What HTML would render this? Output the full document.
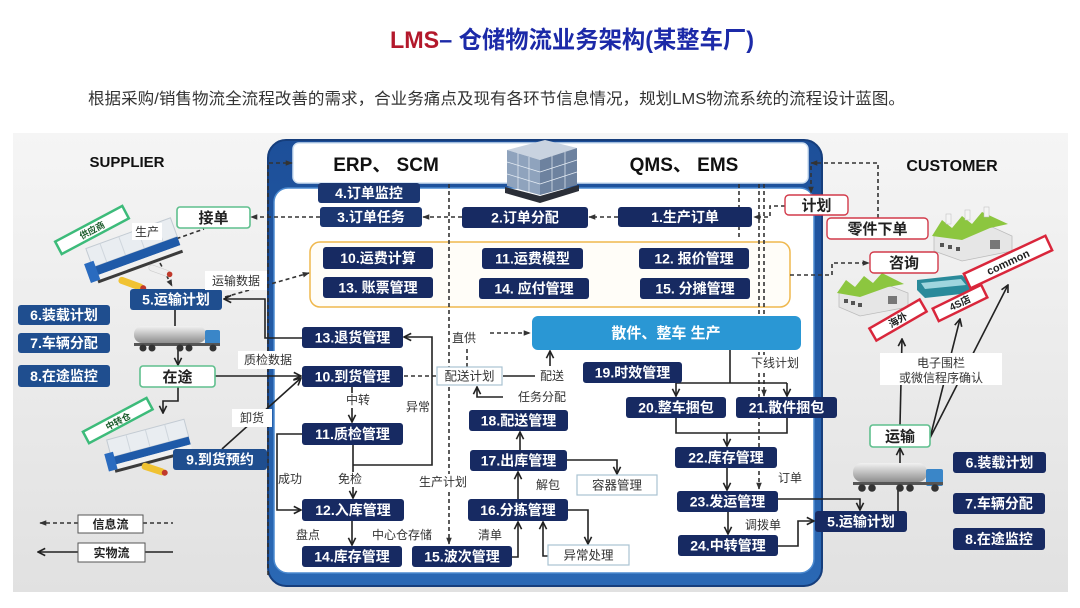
<!DOCTYPE html>
<html><head><meta charset="utf-8">
<style>
html,body{margin:0;padding:0;background:#fff;}
svg{display:block;}
text{font-family:"Liberation Sans","Noto Sans CJK SC",sans-serif;}
.bx{fill:#172a62;}
.b2{fill:#1b3671;}
.bl{fill:#1f4e8f;}
.t{fill:#fff;font-size:14px;font-weight:bold;text-anchor:middle;}
.l{fill:#333;font-size:12px;text-anchor:middle;}
.g{fill:#222;font-size:15px;font-weight:bold;text-anchor:middle;}
.s{stroke:#222;stroke-width:1.6;fill:none;}
.d{stroke:#333;stroke-width:1.6;fill:none;stroke-dasharray:4 3;}
.wb{fill:#fff;}
.lb{fill:#fff;stroke:#a9c3d3;stroke-width:1.2;}
.gb{fill:#fff;stroke:#5fbf8d;stroke-width:1.6;}
.rb{fill:#fff;stroke:#d23a4a;stroke-width:1.4;}
</style></head><body>
<svg width="1080" height="608" viewBox="0 0 1080 608" xmlns="http://www.w3.org/2000/svg">
<defs>
<linearGradient id="pg" x1="0" y1="0" x2="0" y2="1"><stop offset="0" stop-color="#f5f5f5"/><stop offset="1" stop-color="#e1e1e1"/></linearGradient>
<linearGradient id="tk" x1="0" y1="0" x2="0" y2="1"><stop offset="0" stop-color="#f2f2f2"/><stop offset="1" stop-color="#8e8e8e"/></linearGradient>
<linearGradient id="fr" x1="0" y1="0" x2="0" y2="1"><stop offset="0" stop-color="#1d4f99"/><stop offset="1" stop-color="#2a68b4"/></linearGradient>
<marker id="ar" viewBox="0 0 10 10" refX="9" refY="5" markerWidth="9" markerHeight="9" markerUnits="userSpaceOnUse" orient="auto"><path d="M1,1 L9,5 L1,9" fill="none" stroke="#222" stroke-width="1.8"/></marker>
<marker id="ad" viewBox="0 0 10 10" refX="9" refY="5" markerWidth="7" markerHeight="7" markerUnits="userSpaceOnUse" orient="auto"><path d="M0,1 L10,5 L0,9 z" fill="#333"/></marker>
</defs>

<rect x="0" y="0" width="1080" height="608" fill="#fff"/>
<rect x="13" y="133" width="1055" height="459" fill="url(#pg)"/>

<!-- Title -->
<text x="390" y="48" font-size="24" font-weight="bold" textLength="364" lengthAdjust="spacingAndGlyphs"><tspan fill="#b3182b">LMS</tspan><tspan fill="#1c2aa8">– 仓储物流业务架构(某整车厂)</tspan></text>
<text x="88" y="104" font-size="16" fill="#333" textLength="817" lengthAdjust="spacingAndGlyphs">根据采购/销售物流全流程改善的需求，合业务痛点及现有各环节信息情况，规划LMS物流系统的流程设计蓝图。</text>

<text x="127" y="167" font-size="15" font-weight="bold" fill="#111" text-anchor="middle">SUPPLIER</text>
<text x="952" y="171" font-size="16" font-weight="bold" fill="#111" text-anchor="middle">CUSTOMER</text>

<!-- central frame -->
<rect x="268" y="140" width="554" height="446" rx="18" fill="url(#fr)" stroke="#163e7c" stroke-width="2"/>
<rect x="293" y="143" width="515" height="40" rx="6" fill="#fff" stroke="#cfe0f2" stroke-width="1.5"/>
<rect x="274" y="188" width="540" height="385" rx="14" fill="#fff" stroke="#4b8ad0" stroke-width="1.5"/>
<text x="386" y="171" font-size="19" font-weight="bold" fill="#111" text-anchor="middle">ERP、 SCM</text>
<text x="684" y="171" font-size="19" font-weight="bold" fill="#111" text-anchor="middle">QMS、 EMS</text>

<!-- building -->
<polygon points="507,150 545,140 577,148 540,160" fill="#c9d3e0"/>
<polygon points="507,150 540,160 540,195 507,186" fill="#8fa3bd"/>
<polygon points="540,160 577,148 577,185 540,195" fill="#6d829f"/>
<g stroke="#e6edf5" stroke-width="0.7">
<line x1="518" y1="153" x2="518" y2="189"/><line x1="529" y1="157" x2="529" y2="192"/>
<line x1="552" y1="156" x2="552" y2="191"/><line x1="565" y1="152" x2="565" y2="188"/>
<line x1="507" y1="162" x2="540" y2="172"/><line x1="507" y1="174" x2="540" y2="184"/>
<line x1="540" y1="172" x2="577" y2="160"/><line x1="540" y1="184" x2="577" y2="172"/>
</g>
<polygon points="505,187 540,196 579,185 579,191 540,203 505,193" fill="#2b2f38"/>

<!-- orange group box -->
<rect x="310" y="242" width="480" height="65" rx="10" fill="#fffdf8" stroke="#efb84e" stroke-width="1.5"/>

<!-- dashed lines -->
<polyline class="d" points="268,575 268,163 292,163" marker-end="url(#ad)"/>
<line class="d" x1="449" y1="184" x2="449" y2="544" marker-end="url(#ad)"/>
<line class="d" x1="739" y1="184" x2="739" y2="240"/>
<line class="d" x1="759" y1="184" x2="759" y2="489" marker-end="url(#ad)"/>
<line class="d" x1="764" y1="184" x2="764" y2="396" marker-end="url(#ad)"/>
<line class="d" x1="320" y1="217" x2="251" y2="217" marker-end="url(#ad)"/>
<line class="d" x1="462" y1="217" x2="423" y2="217" marker-end="url(#ad)"/>
<line class="d" x1="618" y1="217" x2="589" y2="217" marker-end="url(#ad)"/>
<polyline class="d" points="785,206 770,206 770,217 754,217" marker-end="url(#ad)"/>
<polyline class="d" points="878,218 878,163 811,163" marker-end="url(#ad)"/>
<line class="d" x1="811" y1="166" x2="811" y2="193" marker-end="url(#ad)"/>
<polyline class="d" points="790,275 832,275 832,263 869,263" marker-end="url(#ad)"/>
<line class="d" x1="225" y1="297" x2="309" y2="273" marker-end="url(#ad)"/>
<line class="d" x1="170" y1="241" x2="204" y2="229"/>
<line class="d" x1="160" y1="263" x2="172" y2="286" marker-end="url(#ad)"/>
<line class="d" x1="404" y1="376" x2="437" y2="376"/>
<line class="d" x1="467" y1="367" x2="467" y2="347"/>
<line class="d" x1="490" y1="333" x2="530" y2="333" marker-end="url(#ad)"/>

<!-- solid lines -->
<polyline class="s" points="303,338 265,338 265,299 224,299" marker-end="url(#ar)"/>
<line class="s" x1="215" y1="376" x2="301" y2="376" marker-end="url(#ar)"/>
<line class="s" x1="222" y1="449" x2="301" y2="378" marker-end="url(#ar)"/>
<line class="s" x1="175" y1="310" x2="175" y2="326"/>
<line class="s" x1="178" y1="350" x2="178" y2="365" marker-end="url(#ar)"/>
<polyline class="s" points="178,387 178,401 163,401 163,413" marker-end="url(#ar)"/>
<line class="s" x1="352" y1="387" x2="352" y2="422" marker-end="url(#ar)"/>
<polyline class="s" points="353,465 432,465 432,337 404,337" marker-end="url(#ar)"/>
<line class="s" x1="353" y1="445" x2="353" y2="498" marker-end="url(#ar)"/>
<polyline class="s" points="302,434 277,434 277,510 301,510" marker-end="url(#ar)"/>
<line class="s" x1="352" y1="521" x2="352" y2="545" marker-end="url(#ar)"/>
<polyline class="s" points="512,557 518,557 518,522" marker-end="url(#ar)"/>
<line class="s" x1="518" y1="499" x2="518" y2="472" marker-end="url(#ar)"/>
<line class="s" x1="520" y1="450" x2="520" y2="432" marker-end="url(#ar)"/>
<polyline class="s" points="567,460 617,460 617,474" marker-end="url(#ar)"/>
<polyline class="s" points="568,510 588,510 588,544" marker-end="url(#ar)"/>
<polyline class="s" points="548,556 543,556 543,522" marker-end="url(#ar)"/>
<line class="s" x1="503" y1="376" x2="535" y2="376"/>
<line class="s" x1="550" y1="366" x2="550" y2="351" marker-end="url(#ar)"/>
<polyline class="s" points="503,397 477,397 477,387" marker-end="url(#ar)"/>
<line class="s" x1="730" y1="350" x2="730" y2="383"/>
<line class="s" x1="676" y1="383" x2="787" y2="383"/>
<line class="s" x1="676" y1="383" x2="676" y2="396" marker-end="url(#ar)"/>
<line class="s" x1="787" y1="383" x2="787" y2="396" marker-end="url(#ar)"/>
<polyline class="s" points="676,418 676,433 787,433 787,418"/>
<line class="s" x1="727" y1="433" x2="727" y2="446" marker-end="url(#ar)"/>
<line class="s" x1="727" y1="468" x2="727" y2="490" marker-end="url(#ar)"/>
<line class="s" x1="728" y1="512" x2="728" y2="534" marker-end="url(#ar)"/>
<polyline class="s" points="778,546 798,546 798,521 814,521" marker-end="url(#ar)"/>
<polyline class="s" points="778,499 860,499 860,510" marker-end="url(#ar)"/>
<line class="s" x1="900" y1="463" x2="900" y2="448" marker-end="url(#ar)"/>
<line class="s" x1="898" y1="490" x2="898" y2="511"/>
<line class="s" x1="900" y1="425" x2="902" y2="339" marker-end="url(#ar)"/>
<line class="s" x1="930" y1="438" x2="960" y2="319" marker-end="url(#ar)"/>
<line class="s" x1="930" y1="438" x2="1008" y2="285" marker-end="url(#ar)"/>

<!-- legend -->
<line class="d" x1="78" y1="523" x2="40" y2="523" marker-end="url(#ad)"/>
<line class="d" x1="143" y1="523" x2="173" y2="523"/>
<rect x="78" y="515" width="65" height="18" fill="#fff" stroke="#555" stroke-width="1"/>
<text x="110.5" y="528.5" font-size="12" font-weight="bold" fill="#222" text-anchor="middle">信息流</text>
<line class="s" x1="78" y1="552" x2="38" y2="552" marker-end="url(#ar)"/>
<line class="s" x1="145" y1="552" x2="173" y2="552"/>
<rect x="78" y="543" width="67" height="19" fill="#fff" stroke="#555" stroke-width="1"/>
<text x="111.5" y="557" font-size="12" font-weight="bold" fill="#222" text-anchor="middle">实物流</text>

<!-- supplier warehouse -->
<g transform="translate(135,252) rotate(-20)">
<rect x="-45" y="-20" width="90" height="20" fill="#e9edf1" stroke="#c3cbd3" stroke-width="1"/>
<line x1="-30" y1="-20" x2="-30" y2="0" stroke="#cfd6dd"/><line x1="-10" y1="-20" x2="-10" y2="0" stroke="#cfd6dd"/><line x1="10" y1="-20" x2="10" y2="0" stroke="#cfd6dd"/><line x1="30" y1="-20" x2="30" y2="0" stroke="#cfd6dd"/>
<rect x="-45" y="0" width="90" height="9" fill="#1f5aa8"/>
<rect x="-45" y="9" width="90" height="5" fill="#f0f0f0"/>
<rect x="-45" y="14" width="90" height="3" fill="#3b3b3b"/>
<rect x="-52" y="-6" width="10" height="20" fill="#2a6bbf"/>
</g>
<g transform="translate(120,276) rotate(20)"><rect x="0" y="0" width="26" height="7" rx="3" fill="#f0c232"/><circle cx="26" cy="3.5" r="3" fill="#c0392b"/></g>
<g transform="translate(150,264) rotate(20)"><rect x="0" y="0" width="22" height="6" rx="3" fill="#eee" stroke="#ccc" stroke-width="0.6"/><circle cx="22" cy="3" r="2.8" fill="#c0392b"/></g>
<g transform="translate(92,230) rotate(-28)"><rect x="-38" y="-7" width="76" height="14" fill="#fff" stroke="#3dbb7a" stroke-width="2.5"/><text x="0" y="3.5" font-size="9" font-weight="bold" fill="#1a5a2a" text-anchor="middle">供应商</text></g>

<!-- transit warehouse -->
<g transform="translate(150,447) rotate(-15)">
<rect x="-40" y="-18" width="80" height="18" fill="#e9edf1" stroke="#c3cbd3" stroke-width="1"/>
<line x1="-20" y1="-18" x2="-20" y2="0" stroke="#cfd6dd"/><line x1="0" y1="-18" x2="0" y2="0" stroke="#cfd6dd"/><line x1="20" y1="-18" x2="20" y2="0" stroke="#cfd6dd"/>
<rect x="-40" y="0" width="80" height="8" fill="#1f5aa8"/>
<rect x="-40" y="8" width="80" height="5" fill="#f0f0f0"/>
<rect x="-40" y="13" width="80" height="3" fill="#3b3b3b"/>
<rect x="-46" y="-5" width="9" height="18" fill="#2a6bbf"/>
</g>
<g transform="translate(143,462) rotate(18)"><rect x="0" y="0" width="24" height="7" rx="3" fill="#f0c232"/><circle cx="24" cy="3.5" r="3" fill="#c0392b"/></g>
<g transform="translate(118,421) rotate(-28)"><rect x="-36" y="-7" width="72" height="13" fill="#fff" stroke="#3dbb7a" stroke-width="2.5"/><text x="0" y="3.5" font-size="9" font-weight="bold" fill="#1a5a2a" text-anchor="middle">中转仓</text></g>

<!-- left truck -->
<rect x="134" y="326" width="72" height="17" rx="8" fill="url(#tk)"/>
<rect x="205" y="330" width="15" height="15" rx="2" fill="#3a86c8"/>
<rect x="134" y="343" width="86" height="3" fill="#555"/>
<g fill="#333"><circle cx="143" cy="348" r="3.5"/><circle cx="152" cy="348" r="3.5"/><circle cx="180" cy="348" r="3.5"/><circle cx="189" cy="348" r="3.5"/><circle cx="213" cy="348" r="3.5"/></g>

<!-- right truck -->
<rect x="853" y="463" width="74" height="19" rx="9" fill="url(#tk)"/>
<rect x="926" y="469" width="17" height="17" rx="2" fill="#3a86c8"/>
<rect x="853" y="482" width="90" height="3" fill="#555"/>
<g fill="#333"><circle cx="862" cy="488" r="3.8"/><circle cx="872" cy="488" r="3.8"/><circle cx="900" cy="488" r="3.8"/><circle cx="910" cy="488" r="3.8"/><circle cx="935" cy="488" r="3.8"/></g>

<!-- factories -->
<g>
<polygon points="934,236 990,226 1012,236 1012,251 962,261 934,251" fill="#e6e6e6" stroke="#bcbcbc" stroke-width="0.8"/>
<polygon points="932,236 942,220 952,228 962,216 972,224 982,212 1008,224 990,228 962,240" fill="#8cc63f"/>
<g fill="#555"><rect x="940" y="243" width="4" height="4"/><rect x="948" y="245" width="4" height="4"/><rect x="956" y="247" width="4" height="4"/><rect x="990" y="240" width="10" height="9" fill="#777"/></g>
<g fill="#f4f4f4" stroke="#bbb" stroke-width="0.5"><rect x="946" y="214" width="5" height="10"/><rect x="965" y="210" width="5" height="10"/><rect x="984" y="207" width="5" height="10"/></g>
</g>
<g>
<polygon points="839,293 885,284 908,293 908,307 860,316 839,307" fill="#e6e6e6" stroke="#bcbcbc" stroke-width="0.8"/>
<polygon points="837,293 846,280 855,287 864,276 873,283 882,273 904,284 888,287 860,297" fill="#8cc63f"/>
<g fill="#555"><rect x="844" y="299" width="4" height="4"/><rect x="851" y="301" width="4" height="4"/><rect x="858" y="303" width="4" height="4"/><rect x="888" y="296" width="9" height="8" fill="#777"/></g>
</g>
<!-- bus -->
<polygon points="917,280 962,275 970,283 970,293 925,298 917,290" fill="#2a8a9a"/>
<polygon points="921,283 961,279 966,285 925,289" fill="#9fd6de"/>

<!-- red tilted labels -->
<g transform="translate(898,320) rotate(-30)"><rect x="-29" y="-7" width="58" height="14" fill="#fff" stroke="#d9263b" stroke-width="2.5"/><text x="0" y="3.5" font-size="10" font-weight="bold" fill="#222" text-anchor="middle">海外</text></g>
<g transform="translate(960,303) rotate(-26)"><rect x="-27" y="-7" width="54" height="14" fill="#fff" stroke="#d9263b" stroke-width="2.5"/><text x="0" y="3.5" font-size="10" font-weight="bold" fill="#222" text-anchor="middle">4S店</text></g>
<g transform="translate(1008,262) rotate(-25)"><rect x="-45" y="-8" width="90" height="16" fill="#fff" stroke="#d9263b" stroke-width="2.5"/><text x="0" y="4" font-size="11" font-weight="bold" fill="#222" text-anchor="middle">common</text></g>

<rect x="880" y="353" width="122" height="32" fill="#fff"/>
<text class="l" x="941" y="367">电子围栏</text>
<text class="l" x="941" y="382">或微信程序确认</text>

<!-- side boxes -->
<rect class="gb" x="177" y="207" width="73" height="21" rx="3"/><text class="g" x="213.5" y="223">接单</text>
<rect class="gb" x="140" y="366" width="75" height="21" rx="3"/><text class="g" x="177.5" y="382">在途</text>
<rect class="gb" x="870" y="425" width="60" height="22" rx="3"/><text class="g" x="900" y="441.5">运输</text>
<rect class="rb" x="785" y="195" width="63" height="20" rx="4"/><text class="g" x="816.5" y="210.5">计划</text>
<rect class="rb" x="827" y="218" width="101" height="21" rx="4"/><text class="g" x="877.5" y="234">零件下单</text>
<rect class="rb" x="870" y="252" width="68" height="21" rx="4" stroke="#8a3a44"/><text class="g" x="904" y="268">咨询</text>

<!-- light boxes -->
<rect class="lb" x="437" y="367" width="65" height="18"/><text x="469.5" y="380.5" font-size="12.5" fill="#333" text-anchor="middle">配送计划</text>
<rect class="lb" x="577" y="475" width="80" height="20"/><text x="617" y="489.5" font-size="12.5" fill="#333" text-anchor="middle">容器管理</text>
<rect class="lb" x="548" y="545" width="81" height="20"/><text x="588.5" y="559.5" font-size="12.5" fill="#333" text-anchor="middle">异常处理</text>

<!-- production box -->
<rect x="532" y="316" width="269" height="34" rx="6" fill="#2a97d4"/>
<text x="666" y="338" font-size="15" font-weight="bold" fill="#fff" text-anchor="middle">散件、整车 生产</text>

<!-- navy boxes -->
<rect class="b2" x="318" y="183" width="102" height="20" rx="3"/><text class="t" x="369" y="198">4.订单监控</text>
<rect class="b2" x="320" y="207" width="102" height="20" rx="3"/><text class="t" x="371" y="222">3.订单任务</text>
<rect class="bx" x="462" y="207" width="126" height="21" rx="3"/><text class="t" x="525" y="222.5">2.订单分配</text>
<rect class="bx" x="618" y="207" width="134" height="20" rx="3"/><text class="t" x="685" y="222">1.生产订单</text>
<rect class="bx" x="323" y="247" width="110" height="22" rx="3"/><text class="t" x="378" y="263">10.运费计算</text>
<rect class="bx" x="323" y="277" width="110" height="21" rx="3"/><text class="t" x="378" y="292.5">13. 账票管理</text>
<rect class="bx" x="482" y="248" width="101" height="21" rx="3"/><text class="t" x="532.5" y="263.5">11.运费模型</text>
<rect class="bx" x="479" y="278" width="110" height="21" rx="3"/><text class="t" x="534" y="293.5">14. 应付管理</text>
<rect class="bx" x="639" y="248" width="110" height="21" rx="3"/><text class="t" x="694" y="263.5">12. 报价管理</text>
<rect class="bx" x="640" y="278" width="110" height="21" rx="3"/><text class="t" x="695" y="293.5">15. 分摊管理</text>
<rect class="bx" x="302" y="327" width="101" height="21" rx="3"/><text class="t" x="352.5" y="342.5">13.退货管理</text>
<rect class="bx" x="302" y="366" width="101" height="21" rx="3"/><text class="t" x="352.5" y="381.5">10.到货管理</text>
<rect class="bx" x="302" y="423" width="101" height="22" rx="3"/><text class="t" x="352.5" y="439">11.质检管理</text>
<rect class="bx" x="302" y="499" width="102" height="22" rx="3"/><text class="t" x="353" y="515">12.入库管理</text>
<rect class="bx" x="302" y="546" width="100" height="21" rx="3"/><text class="t" x="352" y="561.5">14.库存管理</text>
<rect class="bx" x="412" y="546" width="100" height="21" rx="3"/><text class="t" x="462" y="561.5">15.波次管理</text>
<rect class="bx" x="468" y="499" width="100" height="22" rx="3"/><text class="t" x="518" y="515">16.分拣管理</text>
<rect class="bx" x="470" y="450" width="97" height="21" rx="3"/><text class="t" x="518.5" y="465.5">17.出库管理</text>
<rect class="bx" x="469" y="410" width="99" height="21" rx="3"/><text class="t" x="518.5" y="425.5">18.配送管理</text>
<rect class="bx" x="583" y="362" width="99" height="21" rx="3"/><text class="t" x="632.5" y="377.5">19.时效管理</text>
<rect class="bx" x="626" y="397" width="100" height="21" rx="3"/><text class="t" x="676" y="412.5">20.整车捆包</text>
<rect class="bx" x="736" y="397" width="101" height="21" rx="3"/><text class="t" x="786.5" y="412.5">21.散件捆包</text>
<rect class="bx" x="675" y="447" width="102" height="21" rx="3"/><text class="t" x="726" y="462.5">22.库存管理</text>
<rect class="bx" x="677" y="491" width="101" height="21" rx="3"/><text class="t" x="727.5" y="506.5">23.发运管理</text>
<rect class="bx" x="678" y="535" width="100" height="21" rx="3"/><text class="t" x="728" y="550.5">24.中转管理</text>
<rect class="bx" x="815" y="511" width="92" height="21" rx="3"/><text class="t" x="861" y="526.5">5.运输计划</text>
<rect class="bx" x="953" y="452" width="93" height="21" rx="3"/><text class="t" x="999.5" y="467.5">6.装载计划</text>
<rect class="bx" x="953" y="493" width="92" height="21" rx="3"/><text class="t" x="999" y="508.5">7.车辆分配</text>
<rect class="bx" x="953" y="528" width="92" height="22" rx="3"/><text class="t" x="999" y="544">8.在途监控</text>

<rect class="bl" x="130" y="289" width="92" height="21" rx="3"/><text class="t" x="176" y="304.5">5.运输计划</text>
<rect class="bl" x="18" y="305" width="92" height="20" rx="3"/><text class="t" x="64" y="320">6.装载计划</text>
<rect class="bl" x="18" y="333" width="92" height="20" rx="3"/><text class="t" x="64" y="348">7.车辆分配</text>
<rect class="bl" x="18" y="365" width="92" height="22" rx="3"/><text class="t" x="64" y="381">8.在途监控</text>
<rect class="bl" x="173" y="449" width="94" height="21" rx="3"/><text class="t" x="220" y="464.5">9.到货预约</text>

<!-- line labels -->
<rect class="wb" x="132" y="223" width="30" height="17"/><text class="l" x="147" y="236">生产</text>
<rect class="wb" x="205" y="271" width="62" height="19"/><text class="l" x="236" y="285">运输数据</text>
<rect class="wb" x="238" y="351" width="60" height="18"/><text class="l" x="268" y="364">质检数据</text>
<rect class="wb" x="232" y="409" width="40" height="18"/><text class="l" x="252" y="422">卸货</text>
<rect class="wb" x="345" y="393" width="26" height="15"/><text class="l" x="358" y="404">中转</text>
<rect class="wb" x="405" y="399" width="26" height="16"/><text class="l" x="418" y="411">异常</text>
<rect class="wb" x="337" y="472" width="26" height="15"/><text class="l" x="350" y="483">免检</text>
<rect class="wb" x="278" y="472" width="26" height="15"/><text class="l" x="290" y="483">成功</text>
<text class="l" x="308" y="539">盘点</text>
<text class="l" x="402" y="539">中心仓存储</text>
<rect class="wb" x="419" y="474" width="48" height="16"/><text class="l" x="443" y="486">生产计划</text>
<text class="l" x="490" y="539">清单</text>
<text class="l" x="548" y="489">解包</text>
<rect class="wb" x="451" y="331" width="26" height="15"/><text class="l" x="464" y="342">直供</text>
<rect class="wb" x="539" y="368" width="27" height="16"/><text class="l" x="552" y="380">配送</text>
<rect class="wb" x="517" y="389" width="50" height="16"/><text class="l" x="542" y="401">任务分配</text>
<rect class="wb" x="752" y="355" width="46" height="16"/><text class="l" x="775" y="367">下线计划</text>
<text class="l" x="790" y="482">订单</text>
<rect class="wb" x="745" y="518" width="37" height="15"/><text class="l" x="763" y="529">调拨单</text>
</svg>
</body></html>
